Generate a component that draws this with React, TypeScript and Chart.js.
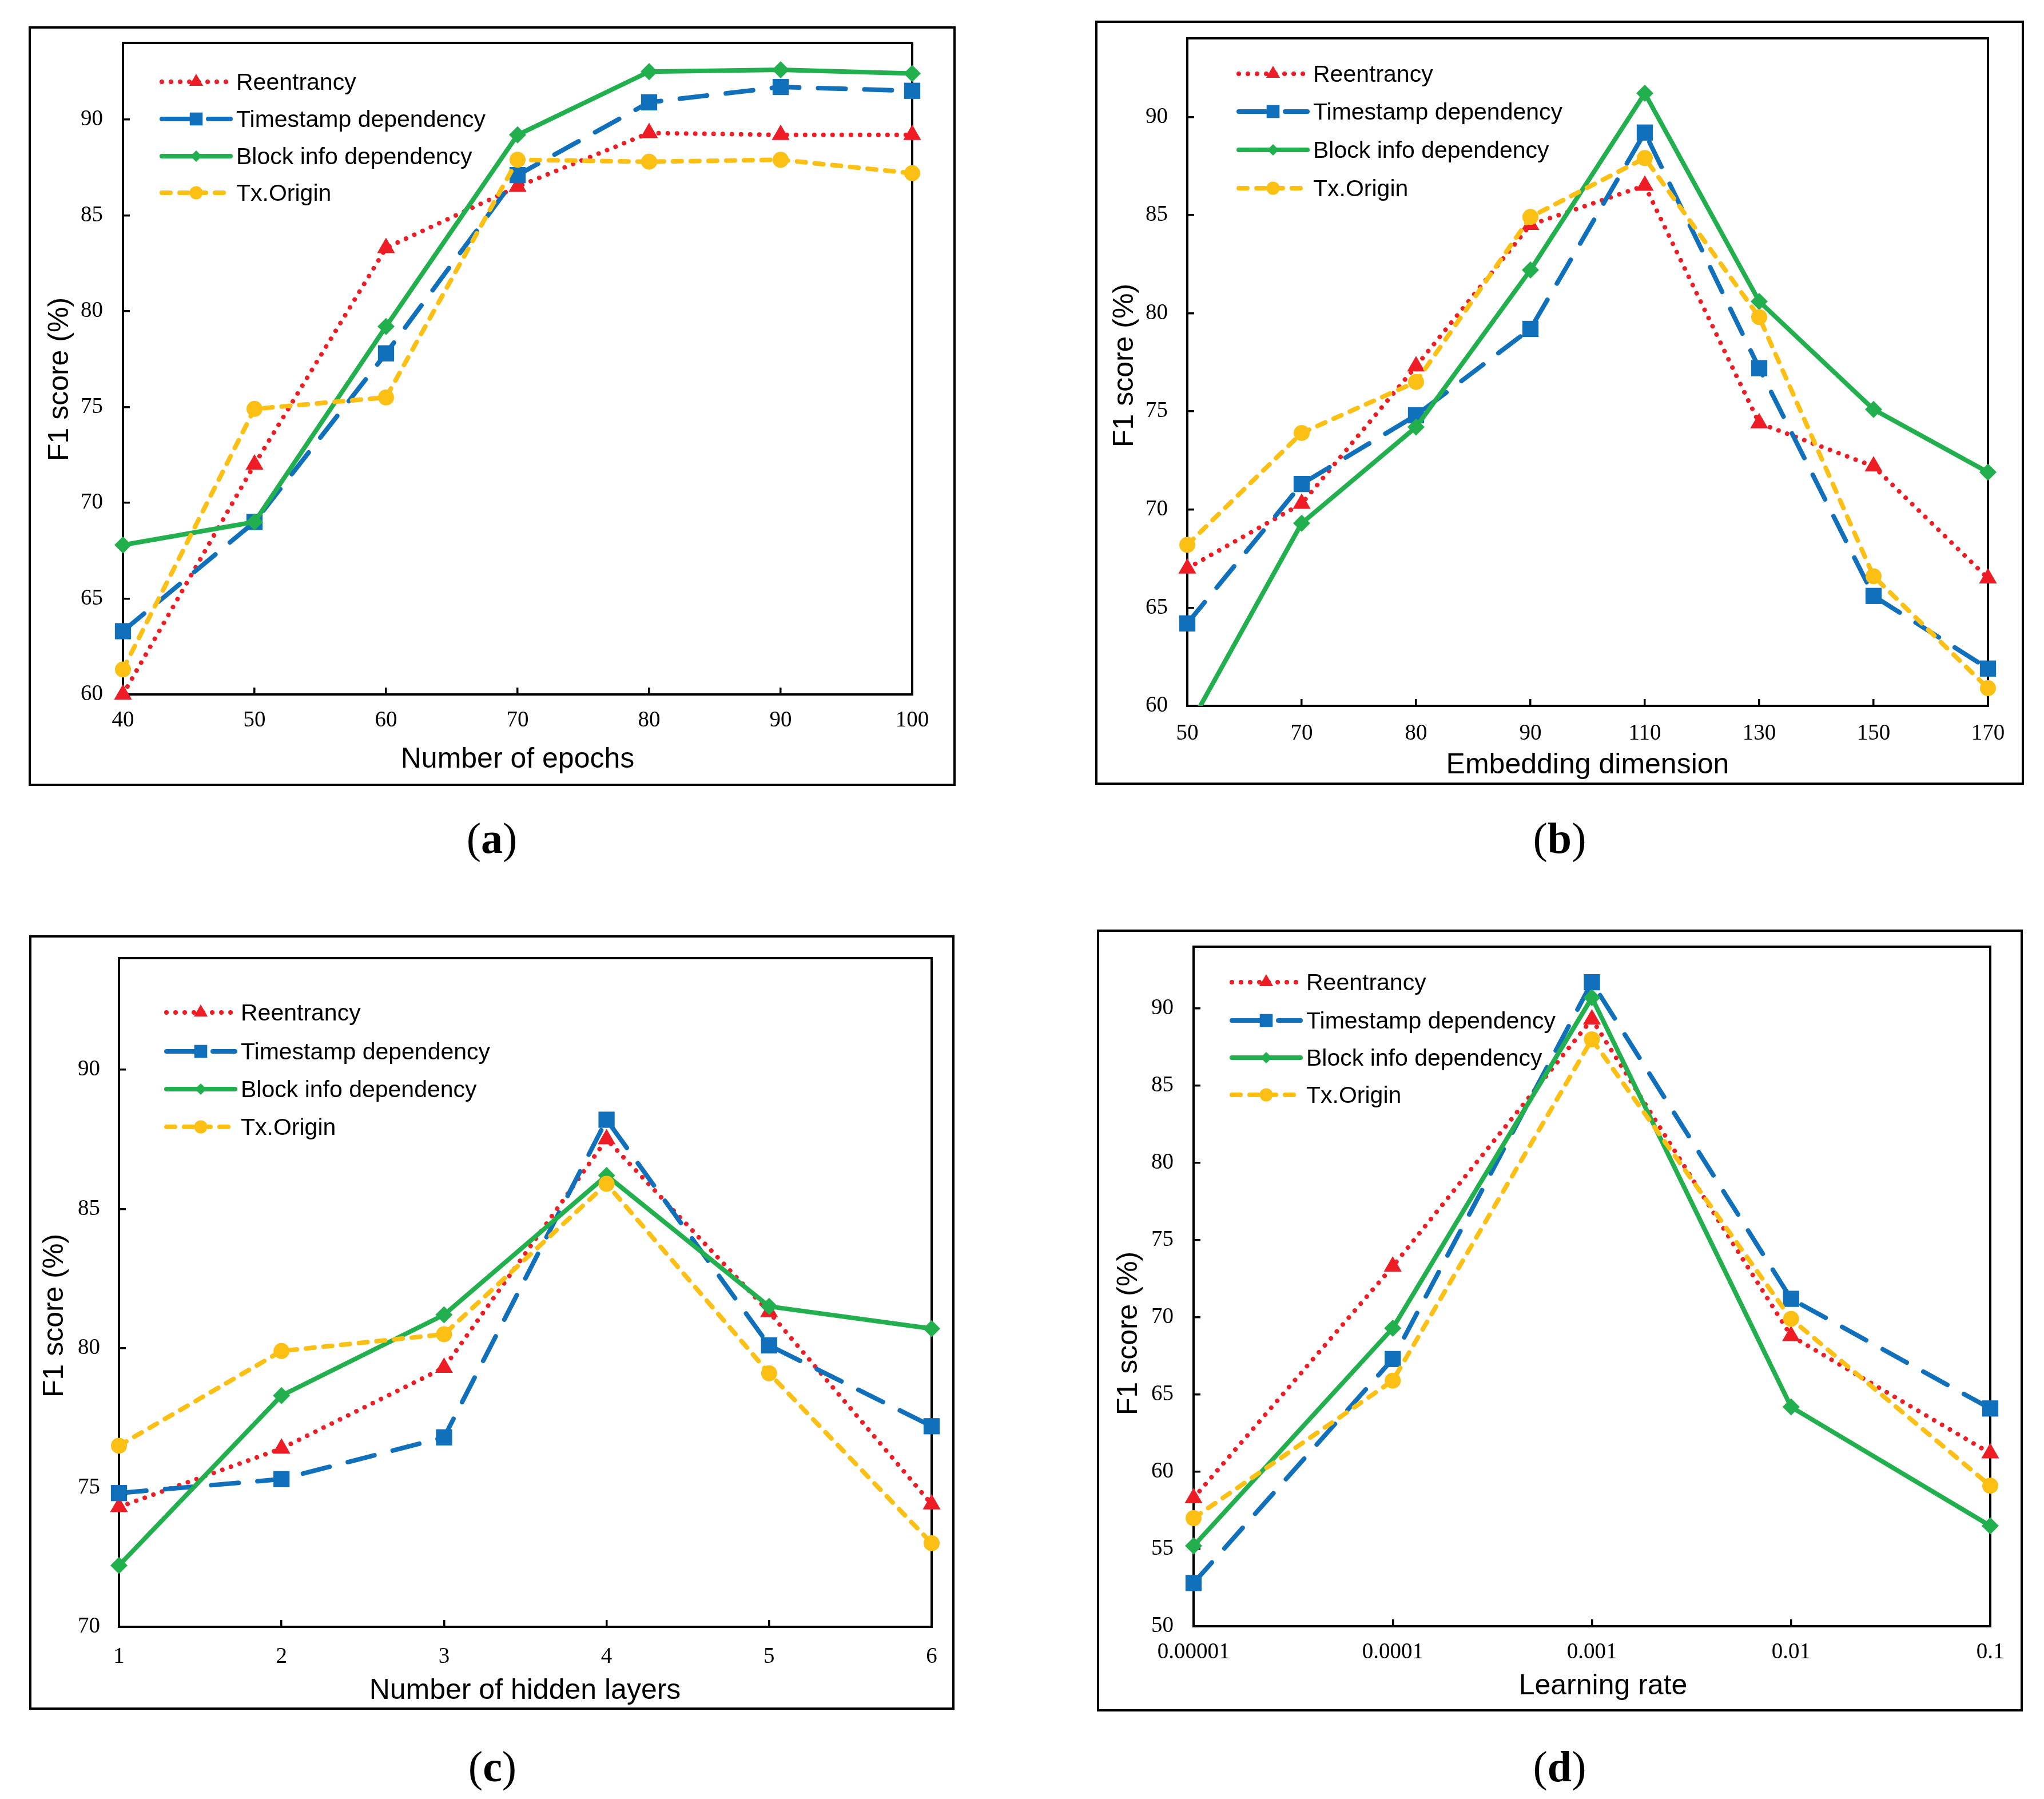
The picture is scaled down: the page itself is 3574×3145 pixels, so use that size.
import React, { useEffect, useRef } from 'react';
import { Chart, registerables } from 'chart.js';

Chart.register(...registerables);

// ---------------- data ----------------
const seriesNames = ['Reentrancy', 'Timestamp dependency', 'Block info dependency', 'Tx.Origin'];

// (a) Number of epochs
const epochLabels = ['40', '50', '60', '70', '80', '90', '100'];
const epochReentrancy = [60.0, 72.0, 83.3, 86.5, 89.3, 89.2, 89.2];
const epochTimestamp = [63.3, 69.0, 77.8, 87.1, 90.9, 91.7, 91.5];
const epochBlockInfo = [67.8, 69.0, 79.2, 89.2, 92.5, 92.6, 92.4];
const epochTxOrigin = [61.3, 74.9, 75.5, 87.9, 87.8, 87.9, 87.2];

// (b) Embedding dimension
const embedLabels = ['50', '70', '80', '90', '110', '130', '150', '170'];
const embedReentrancy = [67.0, 70.3, 77.3, 84.5, 86.5, 74.4, 72.2, 66.5];
const embedTimestamp = [64.2, 71.3, 74.8, 79.2, 89.2, 77.2, 65.6, 61.9];
const embedBlockInfo = [58.8, 69.3, 74.2, 82.2, 91.2, 80.6, 75.1, 71.9];
const embedTxOrigin = [68.2, 73.9, 76.5, 84.9, 87.9, 79.8, 66.6, 60.9];

// (c) Number of hidden layers
const layerLabels = ['1', '2', '3', '4', '5', '6'];
const layerReentrancy = [74.3, 76.4, 79.3, 87.5, 81.3, 74.4];
const layerTimestamp = [74.8, 75.3, 76.8, 88.2, 80.1, 77.2];
const layerBlockInfo = [72.2, 78.3, 81.2, 86.2, 81.5, 80.7];
const layerTxOrigin = [76.5, 79.9, 80.5, 85.9, 79.1, 73.0];

// (d) Learning rate
const lrLabels = ['0.00001', '0.0001', '0.001', '0.01', '0.1'];
const lrReentrancy = [58.3, 73.3, 89.3, 68.8, 61.2];
const lrTimestamp = [52.8, 67.3, 91.7, 71.2, 64.1];
const lrBlockInfo = [55.2, 69.3, 90.7, 64.2, 56.5];
const lrTxOrigin = [57.0, 65.9, 88.0, 69.9, 59.1];

// y-axis ranges
const yMins = [60, 60, 70, 50];
const yMax = 94;
const yStep = 5;

// ---------------- styles ----------------
const SERIF = '"Liberation Serif", "Times New Roman", serif';
const SANS = '"Liberation Sans", Arial, sans-serif';

const seriesStyles = [
  { color: '#EE1D25', dash: [0.01, 16], width: 8, shape: 'triangle', radius: 18, legendRadius: 14 },
  { color: '#1170BB', dash: [48, 33], width: 8, shape: 'rect', radius: 20, legendRadius: 16 },
  { color: '#22B04E', dash: [] as number[], width: 8, shape: 'rectRot', radius: 15, legendRadius: 10 },
  { color: '#FCC014', dash: [15, 16], width: 8, shape: 'circle', radius: 14, legendRadius: 11.5 },
];

type Box = { L: number; T: number; R: number; B: number };
interface PanelSpec {
  caption: string;
  labels: string[];
  series: number[][];
  yMin: number;
  xTitle: string;
  outer: Box;
  plot: Box;
  legendDx: number;
  legendRows: number[];
  yTitleAt: { x: number; y: number };
  xTitleAt: { x: number; y: number };
  xTickPad: number;
  yTickGap: number;
  captionAt: { x: number; y: number };
  clipIndex?: number;
}

const panels: PanelSpec[] = [
  {
    caption: 'a',
    labels: epochLabels,
    series: [epochReentrancy, epochTimestamp, epochBlockInfo, epochTxOrigin],
    yMin: yMins[0],
    xTitle: 'Number of epochs',
    outer: { L: 52, T: 48, R: 1669, B: 1372 },
    plot: { L: 215, T: 75, R: 1595, B: 1214 },
    legendDx: 68,
    legendRows: [68, 133, 198, 262],
    yTitleAt: { x: 119, y: 663 },
    xTitleAt: { x: 905, y: 1342 },
    xTickPad: 34,
    yTickGap: 35,
    captionAt: { x: 860, y: 1491 },
  },
  {
    caption: 'b',
    labels: embedLabels,
    series: [embedReentrancy, embedTimestamp, embedBlockInfo, embedTxOrigin],
    yMin: yMins[1],
    xTitle: 'Embedding dimension',
    outer: { L: 1917, T: 38, R: 3537, B: 1370 },
    plot: { L: 2076, T: 67, R: 3476, B: 1234 },
    legendDx: 90,
    legendRows: [62, 128, 195, 262],
    yTitleAt: { x: 1981, y: 639 },
    xTitleAt: { x: 2776, y: 1352 },
    xTickPad: 37,
    yTickGap: 34,
    captionAt: { x: 2727, y: 1491 },
    clipIndex: 2,
  },
  {
    caption: 'c',
    labels: layerLabels,
    series: [layerReentrancy, layerTimestamp, layerBlockInfo, layerTxOrigin],
    yMin: yMins[2],
    xTitle: 'Number of hidden layers',
    outer: { L: 53, T: 1637, R: 1667, B: 2987 },
    plot: { L: 208, T: 1675, R: 1629, B: 2844 },
    legendDx: 83,
    legendRows: [95, 163, 229, 295],
    yTitleAt: { x: 110, y: 2300 },
    xTitleAt: { x: 918, y: 2970 },
    xTickPad: 41,
    yTickGap: 33,
    captionAt: { x: 861, y: 3114 },
  },
  {
    caption: 'd',
    labels: lrLabels,
    series: [lrReentrancy, lrTimestamp, lrBlockInfo, lrTxOrigin],
    yMin: yMins[3],
    xTitle: 'Learning rate',
    outer: { L: 1920, T: 1627, R: 3535, B: 2990 },
    plot: { L: 2087, T: 1655, R: 3480, B: 2843 },
    legendDx: 67,
    legendRows: [62, 129, 194, 259],
    yTitleAt: { x: 1988, y: 2331 },
    xTitleAt: { x: 2803, y: 2962 },
    xTickPad: 34,
    yTickGap: 35,
    captionAt: { x: 2727, y: 3114 },
  },
];

function drawMarker(ctx: CanvasRenderingContext2D, shape: string, x: number, y: number, r: number) {
  ctx.beginPath();
  if (shape === 'circle') {
    ctx.arc(x, y, r, 0, Math.PI * 2);
  } else if (shape === 'rect') {
    const s = r * Math.SQRT1_2;
    ctx.rect(x - s, y - s, 2 * s, 2 * s);
  } else if (shape === 'rectRot') {
    ctx.moveTo(x, y - r);
    ctx.lineTo(x + r, y);
    ctx.lineTo(x, y + r);
    ctx.lineTo(x - r, y);
    ctx.closePath();
  } else {
    ctx.moveTo(x, y - r);
    ctx.lineTo(x + r * 0.8660254, y + r * 0.5);
    ctx.lineTo(x - r * 0.8660254, y + r * 0.5);
    ctx.closePath();
  }
  ctx.fill();
}

function Panel({ spec }: { spec: PanelSpec }) {
  const ref = useRef<HTMLCanvasElement>(null);
  const cl = spec.outer.L - 2;
  const ct = spec.outer.T - 2;
  const W = spec.outer.R - spec.outer.L + 4;
  const H = spec.outer.B - spec.outer.T + 4;

  useEffect(() => {
    const canvas = ref.current;
    if (!canvas) return;
    const plotL = spec.plot.L - cl;
    const plotT = spec.plot.T - ct;
    const plotR = spec.plot.R - cl;
    const plotB = spec.plot.B - ct;

    const decor = {
      id: 'panelDecor',
      beforeDatasetsDraw(chart: any) {
        const { ctx, chartArea: a } = chart;
        ctx.save();
        ctx.strokeStyle = '#000';
        ctx.lineWidth = 4;
        ctx.setLineDash([]);
        ctx.strokeRect(a.left, a.top, a.right - a.left, a.bottom - a.top);
        ctx.restore();
      },
      afterDraw(chart: any) {
        const { ctx, chartArea: a } = chart;
        ctx.save();
        // outer border
        ctx.strokeStyle = '#000';
        ctx.lineWidth = 4;
        ctx.setLineDash([]);
        ctx.strokeRect(2, 2, W - 4, H - 4);

        // legend
        const x0 = a.left + spec.legendDx;
        chart.data.datasets.forEach((ds: any, i: number) => {
          const st = seriesStyles[i];
          const y = a.top + spec.legendRows[i];
          ctx.save();
          ctx.strokeStyle = ds.borderColor;
          ctx.lineWidth = ds.borderWidth;
          ctx.lineCap = 'round';
          ctx.setLineDash(ds.borderDash || []);
          ctx.beginPath();
          ctx.moveTo(x0, y);
          ctx.lineTo(x0 + 120, y);
          ctx.stroke();
          ctx.setLineDash([]);
          ctx.fillStyle = ds.borderColor;
          drawMarker(ctx, st.shape, x0 + 60, y, st.legendRadius);
          ctx.fillStyle = '#000';
          ctx.font = `41px ${SANS}`;
          ctx.textAlign = 'left';
          ctx.textBaseline = 'alphabetic';
          ctx.fillText(ds.label, x0 + 130, y + 14);
          ctx.restore();
        });

        // axis titles
        ctx.fillStyle = '#000';
        ctx.font = `50px ${SANS}`;
        ctx.textAlign = 'center';
        ctx.textBaseline = 'alphabetic';
        ctx.fillText(spec.xTitle, spec.xTitleAt.x - cl, spec.xTitleAt.y - ct);
        ctx.save();
        ctx.translate(spec.yTitleAt.x - cl, spec.yTitleAt.y - ct);
        ctx.rotate(-Math.PI / 2);
        ctx.fillText('F1 score (%)', 0, 0);
        ctx.restore();
        ctx.restore();
      },
    };

    const gridOpts = {
      display: true,
      drawOnChartArea: false,
      drawTicks: true,
      tickLength: -12,
      tickWidth: 3.5,
      tickColor: '#000',
      color: '#000',
      lineWidth: 3.5,
      offset: false,
    };
    const tickFont = { family: SERIF, size: 39 };

    const chart = new Chart(canvas, {
      type: 'line',
      data: {
        labels: spec.labels,
        datasets: spec.series.map((vals, i) => {
          const st = seriesStyles[i];
          return {
            label: seriesNames[i],
            data: vals,
            order: 3 - i,
            borderColor: st.color,
            backgroundColor: st.color,
            borderWidth: st.width,
            borderDash: st.dash,
            borderCapStyle: 'round',
            borderJoinStyle: 'round',
            tension: 0,
            fill: false,
            pointStyle: st.shape,
            pointRadius: st.radius,
            pointHoverRadius: st.radius,
            pointBackgroundColor: st.color,
            pointBorderColor: st.color,
            pointBorderWidth: 0,
            clip: spec.clipIndex === i ? { left: 0, bottom: 0, top: false, right: false } : false,
          } as any;
        }),
      },
      options: {
        responsive: false,
        maintainAspectRatio: false,
        animation: false,
        devicePixelRatio: 1,
        events: [],
        layout: { padding: { left: 0, top: plotT, right: W - plotR, bottom: 0 } },
        plugins: {
          legend: { display: false },
          tooltip: { enabled: false },
          title: { display: false },
        },
        scales: {
          x: {
            type: 'category',
            offset: false,
            grid: gridOpts,
            border: { display: false },
            ticks: {
              autoSkip: false,
              maxRotation: 0,
              minRotation: 0,
              padding: spec.xTickPad,
              color: '#000',
              font: tickFont,
            },
            afterFit: (s: any) => {
              s.height = H - plotB;
              s.paddingLeft = 0;
              s.paddingRight = 0;
              s.paddingTop = 0;
              s.paddingBottom = 0;
            },
          },
          y: {
            type: 'linear',
            min: spec.yMin,
            max: yMax,
            grid: gridOpts,
            border: { display: false },
            ticks: {
              stepSize: yStep,
              padding: spec.yTickGap + 12,
              color: '#000',
              font: tickFont,
            },
            afterBuildTicks: (s: any) => {
              s.ticks = s.ticks.filter((t: any) => t.value % yStep === 0);
            },
            afterFit: (s: any) => {
              s.width = plotL;
              s.paddingLeft = 0;
              s.paddingRight = 0;
              s.paddingTop = 0;
              s.paddingBottom = 0;
            },
          },
        },
      } as any,
      plugins: [decor],
    });
    return () => chart.destroy();
  }, []);

  return (
    <canvas
      ref={ref}
      width={W}
      height={H}
      style={{ position: 'absolute', left: cl, top: ct, width: W, height: H, display: 'block' }}
    />
  );
}

function Caption({ spec }: { spec: PanelSpec }) {
  const size = 76;
  return (
    <div
      style={{
        position: 'absolute',
        left: spec.captionAt.x - 150,
        width: 300,
        top: spec.captionAt.y - size * 0.837,
        textAlign: 'center',
        fontFamily: SERIF,
        fontSize: size,
        fontWeight: 'normal',
        lineHeight: `${size}px`,
        color: '#000',
        whiteSpace: 'nowrap',
      }}
    >
      <span style={{ fontWeight: 'normal' }}>(</span>
      <b>{spec.caption}</b>
      <span style={{ fontWeight: 'normal' }}>)</span>
    </div>
  );
}

export default function App() {
  useEffect(() => {
    document.body.style.margin = '0';
    document.body.style.overflow = 'hidden';
  }, []);
  return (
    <div
      style={{
        position: 'absolute',
        left: 0,
        top: 0,
        width: 3574,
        height: 3145,
        background: '#fff',
        overflow: 'hidden',
      }}
    >
      {panels.map((p) => (
        <React.Fragment key={p.caption}>
          <Panel spec={p} />
          <Caption spec={p} />
        </React.Fragment>
      ))}
    </div>
  );
}
